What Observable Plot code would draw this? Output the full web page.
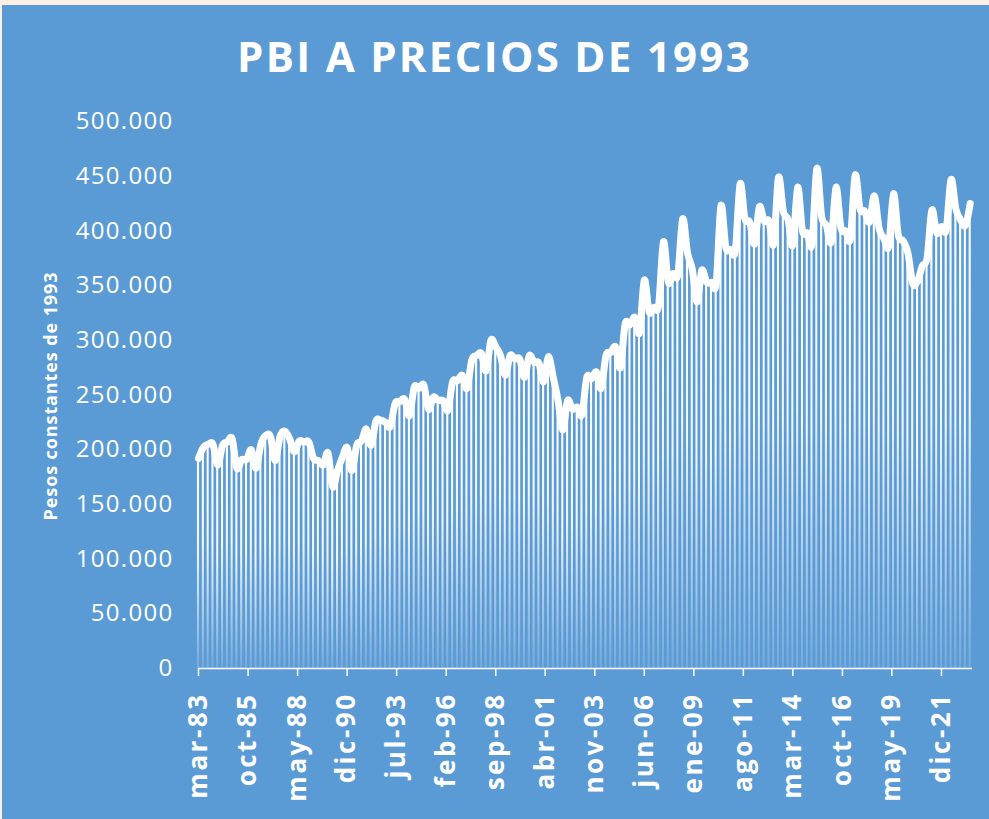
<!DOCTYPE html>
<html><head><meta charset="utf-8">
<script src="https://cdn.jsdelivr.net/npm/d3@7"></script>
<script src="https://cdn.jsdelivr.net/npm/@observablehq/plot@0.6"></script>
<style>
body{margin:0;background:#FCEFE5;width:989px;height:819px;overflow:hidden;font-family:"Open Sans",sans-serif}
#bg{position:absolute;left:2px;top:5px;width:987px;height:814px;background:#5B9BD5}
#title{position:absolute;left:0;top:28px;width:989px;text-align:center;color:#fff;font:bold 42px "Open Sans";letter-spacing:2.3px;line-height:56px;white-space:nowrap}
#ylabel{position:absolute;left:50px;top:396px;transform:translate(-50%,-50%) rotate(-90deg);color:#fff;font:bold 18px "Open Sans";letter-spacing:0.9px;white-space:nowrap}
#chart{position:absolute;left:0;top:0}
#chart g[aria-label="y-axis tick label"] text{font-size:24px;letter-spacing:1.3px}
#chart g[aria-label="x-axis tick label"] text{font-size:26px;font-weight:bold;letter-spacing:2.5px}
</style></head><body>
<div id="bg"></div>
<div id="chart"></div>
<div id="title">PBI A PRECIOS DE 1993</div>
<div id="ylabel">Pesos constantes de 1993</div>
<script>
// Quarterly categories: years and quarter-ending months
const years = d3.range(1983, 2024);
const quarterMonths = [3, 6, 9, 12];
// PBI at 1993 prices (thousands of pesos), quarterly, mar-83 .. jun-23
const pbiValues = [
  192, 202, 205, 205,   // 1983
  186, 204, 207, 210,   // 1984
  183, 191, 191, 200,   // 1985
  183, 205, 213, 212,   // 1986
  190, 212, 217, 210,   // 1987
  198, 208, 207, 207,   // 1988
  192, 190, 186, 197,   // 1989
  166, 181, 193, 202,   // 1990
  181, 204, 208, 219,   // 1991
  204, 226, 227, 225,   // 1992
  221, 242, 244, 246,   // 1993
  231, 257, 256, 259,   // 1994
  237, 248, 245, 245,   // 1995
  236, 262, 263, 268,   // 1996
  256, 282, 286, 288,   // 1997
  272, 300, 294, 286,   // 1998
  268, 286, 283, 283,   // 1999
  266, 286, 280, 279,   // 2000
  262, 285, 266, 245,   // 2001
  218, 245, 237, 239,   // 2002
  232, 266, 265, 271,   // 2003
  256, 286, 289, 294,   // 2004
  275, 315, 314, 321,   // 2005
  307, 355, 326, 330,   // 2006
  332, 390, 353, 361,   // 2007
  360, 411, 380, 365,   // 2008
  335, 364, 353, 353,   // 2009
  352, 423, 385, 383,   // 2010
  382, 443, 411, 408,   // 2011
  388, 422, 409, 409,   // 2012
  388, 449, 418, 410,   // 2013
  387, 440, 400, 398,   // 2014
  388, 457, 413, 405,   // 2015
  390, 440, 403, 400,   // 2016
  393, 451, 420, 418,   // 2017
  408, 432, 402, 393,   // 2018
  386, 434, 396, 391,   // 2019
  380, 352, 354, 368,   // 2020
  375, 419, 398, 404,   // 2021
  401, 447, 420, 410,   // 2022
  405, 425              // 2023
];
// x-axis tick labels (every 31 months, as in the original)
const tickLabels = ["mar-83","oct-85","may-88","dic-90","jul-93","feb-96","sep-98","abr-01","nov-03","jun-06","ene-09","ago-11","mar-14","oct-16","may-19","dic-21"];
const tickMonths = ["1983-03","1985-10","1988-05","1990-12","1993-07","1996-02","1998-09","2001-04","2003-11","2006-06","2009-01","2011-08","2014-03","2016-10","2019-05","2021-12"];
const yTicks = [0, 50000, 100000, 150000, 200000, 250000, 300000, 350000, 400000, 450000, 500000];

const quarters = [];
for (const y of years) for (const m of quarterMonths) quarters.push(new Date(Date.UTC(y, m - 1, 1)));
const data = pbiValues.map((v, i) => ({date: quarters[i], value: v * 1000}));

const parseMonth = d3.utcParse("%Y-%m");
const tickDates = tickMonths.map(parseMonth);
const labelByTime = new Map(tickDates.map((d, i) => [+d, tickLabels[i]]));
const esFormat = d3.formatLocale({decimal: ",", thousands: ".", grouping: [3], currency: ["$", ""]}).format(",");

const svg = Plot.plot({
  width: 989, height: 819,
  marginLeft: 198, marginRight: 17, marginTop: 121, marginBottom: 151,
  style: {background: "transparent", color: "white", fontFamily: "Open Sans", overflow: "visible"},
  x: {type: "utc", domain: [parseMonth("1983-03"), new Date(Date.UTC(2023, 6, 15))]},
  y: {domain: [0, 500000]},
  marks: [
    Plot.rectY(data, {
      x1: d => d3.utcDay.offset(d.date, -20),
      x2: d => d3.utcDay.offset(d.date, 20),
      y: "value", fill: "url(#barGrad)"
    }),
    Plot.ruleY([0], {stroke: "white", strokeWidth: 1.5}),
    Plot.lineY(data, {x: "date", y: "value", stroke: "white", strokeWidth: 7, curve: "cardinal", strokeLinejoin: "round", strokeLinecap: "round"}),
    Plot.axisY({ticks: yTicks, tickSize: 0, tickPadding: 25, tickFormat: esFormat, label: null}),
    Plot.axisX({ticks: tickDates, tickFormat: d => labelByTime.get(+d), tickRotate: -90, tickSize: 8, tickPadding: 16, label: null, strokeWidth: 1.5})
  ]
});
d3.select(svg).insert("defs", ":first-child").html(
  '<linearGradient id="barGrad" x1="0" y1="0" x2="0" y2="1">' +
  '<stop offset="0" stop-color="#ffffff" stop-opacity="1"/>' +
  '<stop offset="0.45" stop-color="#ffffff" stop-opacity="0.9"/>' +
  '<stop offset="1" stop-color="#ffffff" stop-opacity="0.15"/>' +
  '</linearGradient>');
document.getElementById("chart").appendChild(svg);
</script>
</body></html>
